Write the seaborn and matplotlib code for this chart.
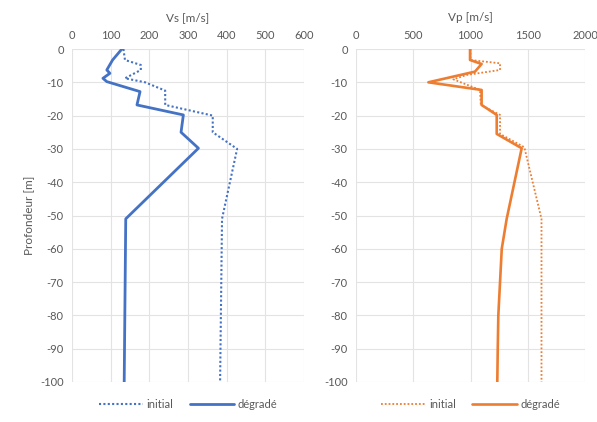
import numpy as np
import pandas as pd
import matplotlib
matplotlib.use("Agg")
import matplotlib.pyplot as plt
import seaborn as sns

# Vs profile (left)
vs_init_depth = [0, -3.3, -4.8, -6.3, -8.8, -10, -12.5, -16.8, -20, -25, -30, -51, -100]
vs_init = [133, 137, 178, 178, 137, 189, 241, 241, 364, 364, 427, 388, 383]
vs_deg_depth = [0, -3.3, -6.3, -7.3, -8.8, -9.8, -12.8, -16.8, -19.8, -25, -29.8, -51, -100]
vs_deg = [129, 105, 90, 98, 80, 90, 176, 168, 288, 282, 327, 139, 135]

# Vp profile (right)
vp_init_depth = [0, -3.3, -4.3, -6.3, -7.8, -9.1, -12.3, -16.8, -19.8, -25.5, -29.5, -51, -100]
vp_init = [1000, 1000, 1258, 1258, 967, 850, 1083, 1090, 1258, 1258, 1470, 1620, 1620]
vp_deg_depth = [0, -3.3, -4.5, -6.8, -10, -12.3, -16.8, -19.8, -25.5, -29.8, -51, -60, -70, -80, -90, -100]
vp_deg = [996, 996, 1097, 1039, 632, 1097, 1097, 1229, 1229, 1447, 1316, 1273, 1258, 1243, 1238, 1234]

sns.set_style("white")
plt.rcParams['font.family'] = ['Lato', 'DejaVu Sans']
plt.rcParams['axes.unicode_minus'] = False
gray = '#595959'
blue = '#4472C4'
orange = '#ED7D31'

fig = plt.figure(figsize=(5.97, 4.22), dpi=100)
ax1 = fig.add_axes([72/597, 1-382/422, 232/597, 333/422])
ax2 = fig.add_axes([356/597, 1-382/422, 229/597, 333/422])

dots = (0, (1, 1.1))

sns.lineplot(x=vs_init, y=vs_init_depth, sort=False, estimator=None, ax=ax1,
             color=blue, linestyle=dots, linewidth=1.5, label='initial')
sns.lineplot(x=vs_deg, y=vs_deg_depth, sort=False, estimator=None, ax=ax1,
             color=blue, linewidth=2.0, label='dégradé')
sns.lineplot(x=vp_init, y=vp_init_depth, sort=False, estimator=None, ax=ax2,
             color=orange, linestyle=dots, linewidth=1.3, label='initial')
sns.lineplot(x=vp_deg, y=vp_deg_depth, sort=False, estimator=None, ax=ax2,
             color=orange, linewidth=1.9, label='dégradé')

for ax, xmax, step, title in [(ax1, 600, 100, 'Vs [m/s]'), (ax2, 2000, 500, 'Vp [m/s]')]:
    ax.set_xlim(0, xmax)
    ax.set_ylim(-100, 0)
    ax.set_xticks(np.arange(0, xmax + 1, step))
    ax.set_yticks(np.arange(-100, 1, 10))
    ax.xaxis.tick_top()
    ax.xaxis.set_label_position('top')
    ax.set_xlabel(title, color=gray, fontsize=8.5, labelpad=6)
    ax.tick_params(axis='both', length=0, labelsize=8, colors=gray, pad=6)
    ax.grid(True, color='#e3e3e3', linewidth=0.8)
    ax.set_axisbelow(True)
    for s in ax.spines.values():
        s.set_visible(False)
    ax.legend(loc='upper center', bbox_to_anchor=(0.5, -0.02), ncol=2, frameon=False,
              fontsize=8, labelcolor=gray, handlelength=4, columnspacing=1.5, handletextpad=0.3)

ax1.set_ylabel('Profondeur [m]', color=gray, fontsize=8.5, labelpad=4)
ax2.set_ylabel('')

fig.savefig('out.png', dpi=100)
